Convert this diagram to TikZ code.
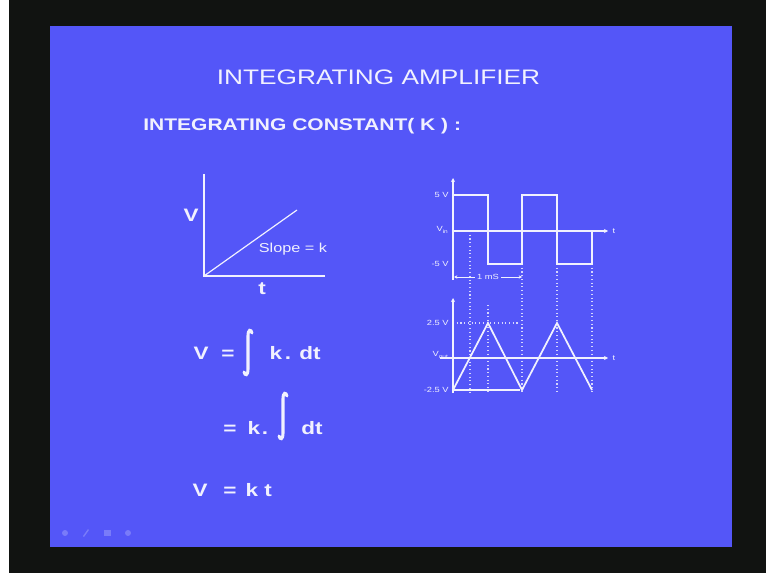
\documentclass[tikz,border=0pt]{standalone}
\usepackage{fontspec}
\setmainfont{Liberation Sans}
\usetikzlibrary{arrows.meta}
\definecolor{slide}{RGB}{84,86,248}
\definecolor{frame}{RGB}{17,19,17}
\colorlet{fg}{white!92!slide}
\colorlet{dotc}{white!75!slide}
\tikzset{
  txt/.style={text=fg, inner sep=0pt, xscale=1.25},
  eq/.style={txt, anchor=base, font=\fontsize{13.5}{16}\selectfont\bfseries},
  tiny/.style={txt, font=\fontsize{5.6}{6}\selectfont},
  ln/.style={draw=fg, line width=1.3pt},
  thin/.style={draw=fg, line width=0.9pt},
  dotl/.style={draw=dotc, line width=0.8pt, dotted},
  intg/.style={draw=fg, line width=2.3pt, line cap=round},
}
\begin{document}
\begin{tikzpicture}[x=0.75pt,y=-0.75pt]
\useasboundingbox (0,0) rectangle (766,573);
\fill[white] (0,0) rectangle (766,573);
\fill[frame] (9,0) rectangle (766,573);
\fill[slide] (50,26) rectangle (732,547);

% titles
\node[txt, font=\fontsize{15.75}{18}\selectfont] (title) at (378.5,77) {INTEGRATING AMPLIFIER};
\node[txt, anchor=west, font=\fontsize{12.6}{15}\selectfont\bfseries] (sub) at (143,126) {INTEGRATING CONSTANT( K ) :};

% left graph
\coordinate (o) at (204,276);
\coordinate (vtop) at (204,174);
\coordinate (tend) at (325,276);
\coordinate (send) at (297,210);
\draw[ln] (vtop) -- (o) -- (tend);
\draw[thin] (o) -- (send);
\node[eq] (lv) at (191,221.5) {V};
\node[eq] (lt) at (262,294) {t};
\node[txt, font=\fontsize{9.75}{11}\selectfont] (slope) at (293,249) {Slope = k};

% equations line 1
\node[eq] (e1v) at (201,359.5) {V};
\node[eq] (e1eq) at (228,359.5) {=};
\draw[intg] (252,333) .. controls (251,329) and (248,329) .. (248,336) -- (248,369) .. controls (248,376) and (245,376) .. (244,372);
\node[eq] (e1k) at (276,359.5) {k};
\node[eq] (e1d) at (288,359.5) {.};
\node[eq] (e1dt) at (310,359.5) {dt};
% line 2
\node[eq] (e2eq) at (230,434.5) {=};
\node[eq] (e2k) at (254,434.5) {k};
\node[eq] (e2d) at (265,434.5) {.};
\draw[intg] (287,396) .. controls (286,392) and (283,392) .. (283,399) -- (283,433) .. controls (283,440) and (280,440) .. (279,436);
\node[eq] (e2dt) at (312,434.5) {dt};
% line 3
\node[eq] (e3v) at (200,496.5) {V};
\node[eq] (e3eq) at (230,496.5) {=};
\node[eq] (e3k) at (252,496.5) {k};
\node[eq] (e3t) at (268,496.5) {t};

% right graphs: dotted guides
\draw[dotl] (470,231) -- (470,393);
\draw[dotl] (488,305) -- (488,393);
\draw[dotl] (522,264) -- (522,393);
\draw[dotl] (557,264) -- (557,393);
\draw[dotl] (592,264) -- (592,393);
\draw[dotl] (453,323) -- (520,323);

% top graph
\draw[thin, -{Stealth[length=3pt,width=3pt]}] (453,280) -- (453,178);
\draw[thin, -{Stealth[length=3pt,width=3pt]}] (453,231) -- (608,231);
\draw[thin] (453,195) -- (488,195) -- (488,264) -- (522,264) -- (522,195) -- (557,195) -- (557,264) -- (592,264) -- (592,231);
\node[tiny, anchor=east] (p5) at (449,195) {5 V};
\node[tiny, anchor=east] (vin) at (449,230) {V\textsubscript{in}};
\node[tiny, anchor=east] (m5) at (449,264) {-5 V};
\node[tiny] (t1) at (614,231) {t};
\draw[draw=fg, line width=0.6pt, {Stealth[length=2.5pt,width=2.5pt]}-{Stealth[length=2.5pt,width=2.5pt]}] (454,277) -- (522,277);
\node[tiny, fill=slide, inner sep=1pt] (ms) at (488,277) {1 mS};

% bottom graph
\draw[thin, -{Stealth[length=3pt,width=3pt]}] (453,393) -- (453,298);
\draw[thin, -{Stealth[length=3pt,width=3pt]}] (440,358) -- (608,358);
\draw[thin] (453,390) -- (520,390);
\draw[ln] (453,390) -- (488,323) -- (522,390) -- (557,323) -- (592,390);
\node[tiny, anchor=east] (p25) at (449,323) {2.5 V};
\node[tiny, anchor=east] (vout) at (449,355) {V\textsubscript{out}};
\node[tiny, anchor=east] (m25) at (449,390) {-2.5 V};
\node[tiny] (t2) at (614,358) {t};

% faint navigation icons
\begin{scope}[fill=white, opacity=0.22]
\fill (65,533) circle (3);
\fill (83,536) -- (88,529) -- (89,530) -- (84,537) -- cycle;
\fill (104,530) rectangle (111,536);
\fill (128,533) circle (3);
\end{scope}
\end{tikzpicture}
\end{document}
